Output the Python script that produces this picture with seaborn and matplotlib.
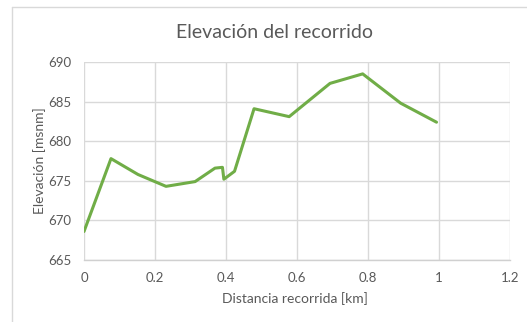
import matplotlib
matplotlib.use("Agg")
import matplotlib.pyplot as plt
import seaborn as sns
import pandas as pd
from matplotlib.lines import Line2D

# Elevation profile of the route
distancia_km = [0.0, 0.076, 0.152, 0.231, 0.313, 0.369, 0.390, 0.394, 0.424,
                0.479, 0.578, 0.693, 0.785, 0.892, 0.993]
elevacion_msnm = [668.6, 677.8, 675.8, 674.3, 674.9, 676.6, 676.7, 675.2, 676.2,
                  684.1, 683.1, 687.3, 688.5, 684.8, 682.4]

x_ticks = [0, 0.2, 0.4, 0.6, 0.8, 1, 1.2]
x_tick_labels = ["0", "0.2", "0.4", "0.6", "0.8", "1", "1.2"]
y_ticks = [665, 670, 675, 680, 685, 690]

titulo = "Elevación del recorrido"
etiqueta_x = "Distancia recorrida [km]"
etiqueta_y = "Elevación [msnm]"

df = pd.DataFrame({"distancia": distancia_km, "elevacion": elevacion_msnm})

sns.set_theme(style="white")
plt.rcParams["font.family"] = ["Lato", "DejaVu Sans"]

W, H = 527, 322
fig = plt.figure(figsize=(W / 100, H / 100), dpi=100)
ax = fig.add_axes([84 / W, 1 - 260 / H, (510 - 84) / W, (260 - 62) / H])

sns.lineplot(data=df, x="distancia", y="elevacion", ax=ax,
             color="#70AD47", linewidth=2.2, sort=False)

ax.set_xlim(0, 1.2)
ax.set_ylim(665, 690)
ax.set_xticks(x_ticks)
ax.set_xticklabels(x_tick_labels)
ax.set_yticks(y_ticks)

ax.grid(True, color="#D9D9D9", linewidth=1.0)
ax.set_axisbelow(True)
for side in ["top", "right", "left"]:
    ax.spines[side].set_visible(False)
ax.spines["bottom"].set_color("#D0D0D0")
ax.spines["bottom"].set_linewidth(1.0)

ax.tick_params(axis="both", length=0, labelsize=9.5, colors="#595959")
ax.tick_params(axis="x", pad=9)
ax.tick_params(axis="y", pad=9)

ax.set_xlabel(etiqueta_x, fontsize=10, color="#595959", va="center")
ax.set_ylabel(etiqueta_y, fontsize=10, color="#595959", va="center")
ax.xaxis.set_label_coords((295 - 84) / 426, (260 - 299) / 198)
ax.yaxis.set_label_coords((40 - 84) / 426, 0.5)

fig.text(274 / W, 1 - 32 / H, titulo, ha="center", va="center",
         fontsize=14, color="#595959")

# Chart area border (left and top edges)
border_color = "#D9D9D9"
fig.add_artist(Line2D([11.5 / W, 11.5 / W], [0, 1 - 7 / H],
                      transform=fig.transFigure, color=border_color, linewidth=1.0))
fig.add_artist(Line2D([11.5 / W, 1], [1 - 7 / H, 1 - 7 / H],
                      transform=fig.transFigure, color=border_color, linewidth=1.0))

fig.savefig("out.png", dpi=100, facecolor="white")
